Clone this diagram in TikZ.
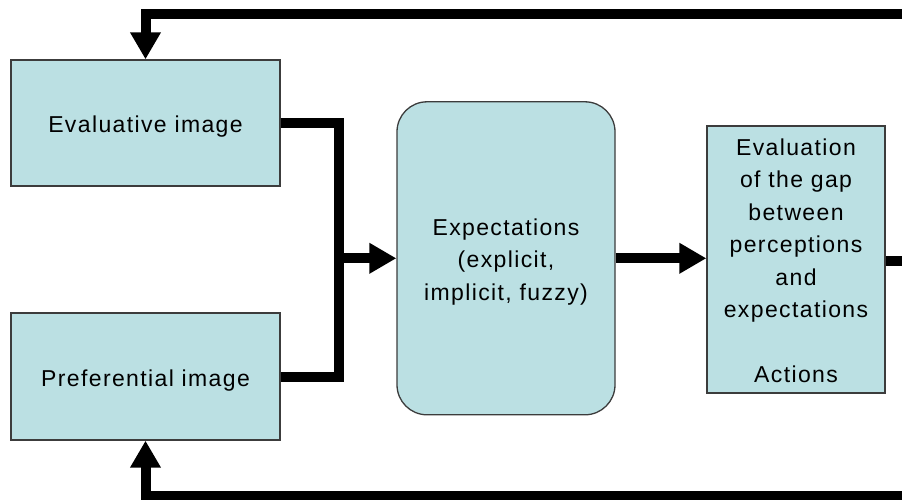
\documentclass[tikz,border=0pt]{standalone}
\usepackage{fontspec}
\setmainfont{Liberation Sans}[LetterSpace=6]
\usetikzlibrary{arrows.meta,calc}
\definecolor{boxfill}{RGB}{187,224,227}
\definecolor{boxline}{RGB}{60,60,60}
\newcommand{\lowtext}[1]{\raisebox{-3pt}[\height][\depth]{\begin{tabular}{@{}c@{}}#1\end{tabular}}}
\tikzset{
  box/.style={draw=boxline, fill=boxfill, line width=1.3pt, align=center,
    inner sep=0pt, font=\fontsize{23}{32.5}\selectfont},
  conn/.style={line width=10pt, draw=black},
  arr/.style={conn, -{Triangle[length=27pt,width=29pt]}}
}
\begin{document}
\begin{tikzpicture}[x=1pt,y=-1pt]
\useasboundingbox (0,0) rectangle (902,500);
\node[box, minimum width=269pt, minimum height=126pt] (eval) at (145.5,123) {\lowtext{Evaluative image}};
\node[box, minimum width=269pt, minimum height=127pt] (pref) at (145.5,376.5) {\lowtext{Preferential image}};
\node[box, rounded corners=30pt, minimum width=218pt, minimum height=313pt] (expect) at (506,258.3)
  {\lowtext{Expectations\\(explicit,\\implicit, fuzzy)}};
\node[box, minimum width=178pt, minimum height=267pt] (gap) at (796,259.5)
  {\lowtext{Evaluation\\of the gap\\between\\perceptions\\and\\expectations\\ \\Actions}};
\coordinate (j) at (338.7,258.3);
\coordinate (topR) at (902,14.3);
\coordinate (botR) at (902,495.5);
\coordinate (gapR) at (902,260.5);
\draw[conn] (eval.east) -| (j) |- (pref.east);
\draw[arr] (j) -- (expect.west);
\draw[arr] (expect.east) -- (expect.east -| gap.west);
\draw[conn] (gap.east |- gapR) -- (gapR);
\draw[arr] (topR) -| (eval.north);
\draw[arr] (botR) -| (pref.south);
\end{tikzpicture}
\end{document}
